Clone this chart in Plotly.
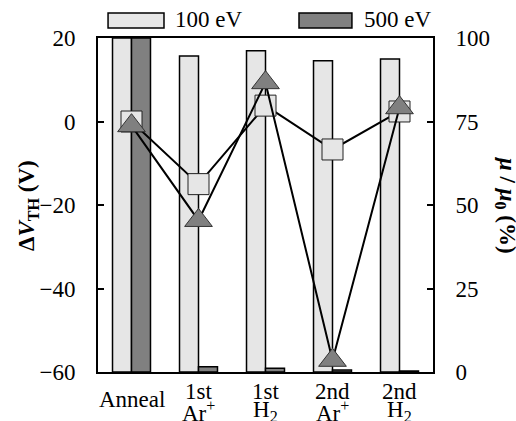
import plotly.graph_objects as go

# ---- data ----
categories = ["Anneal", "1st Ar+", "1st H2", "2nd Ar+", "2nd H2"]
label_top = ["", "1st", "1st", "2nd", "2nd"]
label_bottom = ["", "Ar<sup>+</sup>", "H<sub>2</sub>", "Ar<sup>+</sup>", "H<sub>2</sub>"]
mob_100 = [100, 94.6, 96.2, 93.2, 93.7]      # mu/mu0 (%) 100 eV
mob_500 = [100, 1.6, 1.1, 0.6, 0.3]          # mu/mu0 (%) 500 eV
dvth_100 = [0, -15.0, 3.8, -6.7, 2.4]        # dVth (V) 100 eV
dvth_500 = [-1.0, -23.7, 9.3, -57.2, 3.3]    # dVth (V) 500 eV
series_names = ["100 eV", "500 eV"]

FONT = "Liberation Serif"
FS = 23
LIGHT = "#e6e6e6"
DARK = "#808080"

fig = go.Figure()
fig.add_trace(go.Bar(x=categories, y=mob_100, name=series_names[0], yaxis="y",
                     marker=dict(color=LIGHT, line=dict(color="black", width=1.5))))
fig.add_trace(go.Bar(x=categories, y=mob_500, name=series_names[1], yaxis="y",
                     marker=dict(color=DARK, line=dict(color="black", width=1.5))))
fig.add_trace(go.Scatter(x=categories, y=dvth_100, yaxis="y2", mode="lines+markers",
                         line=dict(color="black", width=2),
                         marker=dict(symbol="square", size=21, color=LIGHT,
                                     line=dict(color="#222", width=1))))
fig.add_trace(go.Scatter(x=categories, y=dvth_500, yaxis="y2", mode="lines+markers",
                         line=dict(color="black", width=2),
                         marker=dict(symbol="triangle-up", size=24, color=DARK,
                                     line=dict(color="#333", width=1))))

axis_common = dict(showline=True, linecolor="black", linewidth=2, showgrid=False,
                   zeroline=False, ticks="inside", ticklen=6, tickwidth=1.5,
                   tickcolor="black", tickfont=dict(family=FONT, size=FS, color="black"))

fig.update_layout(
    width=516, height=421,
    margin=dict(l=98, r=83, t=38, b=49),
    paper_bgcolor="white", plot_bgcolor="white",
    showlegend=False,
    barmode="group", bargap=0.433, bargroupgap=0,
    font=dict(family=FONT, size=FS, color="black"),
    xaxis=dict(range=[-0.5, 4.5], showline=True, linecolor="black", linewidth=2,
               mirror=True, ticks="", showticklabels=False, showgrid=False, zeroline=False),
    yaxis=dict(side="right", range=[0, 100], dtick=25, ticklabelstandoff=16, **axis_common),
    yaxis2=dict(side="left", overlaying="y", range=[-60, 20], dtick=20,
                ticklabelstandoff=16, **axis_common),
)

annotations = []
# category labels
for c, t, b in zip(categories, label_top, label_bottom):
    if t == "":
        annotations.append(dict(x=c, xref="x", y=-0.081, yref="paper", text=c,
                                showarrow=False, yanchor="middle", xanchor="center"))
    else:
        annotations.append(dict(x=c, xref="x", y=-0.057, yref="paper", text=t,
                                showarrow=False, yanchor="middle", xanchor="center"))
        annotations.append(dict(x=c, xref="x", y=-0.117, yref="paper", text=b,
                                showarrow=False, yanchor="middle", xanchor="center"))
# axis titles
annotations.append(dict(x=-0.209, xref="paper", y=0.5, yref="paper",
                        text="<b>Δ<i>V</i><sub>TH</sub> (V)</b>", textangle=-90,
                        showarrow=False, xanchor="center", yanchor="middle",
                        font=dict(family=FONT, size=FS)))
annotations.append(dict(x=1.218, xref="paper", y=0.5, yref="paper",
                        text="<b><i>μ</i> / <i>μ</i><sub>0</sub> (%)</b>", textangle=90,
                        showarrow=False, xanchor="center", yanchor="middle",
                        font=dict(family=FONT, size=FS)))
# legend texts
annotations.append(dict(x=0.224, xref="paper", y=1.054, yref="paper", text=series_names[0],
                        showarrow=False, xanchor="left", yanchor="middle"))
annotations.append(dict(x=0.788, xref="paper", y=1.054, yref="paper", text=series_names[1],
                        showarrow=False, xanchor="left", yanchor="middle"))

shapes = [
    dict(type="rect", xref="paper", yref="paper", x0=0.030, x1=0.197, y0=1.030, y1=1.075,
         fillcolor=LIGHT, line=dict(color="black", width=1.5)),
    dict(type="rect", xref="paper", yref="paper", x0=0.600, x1=0.758, y0=1.030, y1=1.075,
         fillcolor=DARK, line=dict(color="black", width=1.5)),
]
fig.update_layout(annotations=annotations, shapes=shapes)

fig.write_html("out.html")
